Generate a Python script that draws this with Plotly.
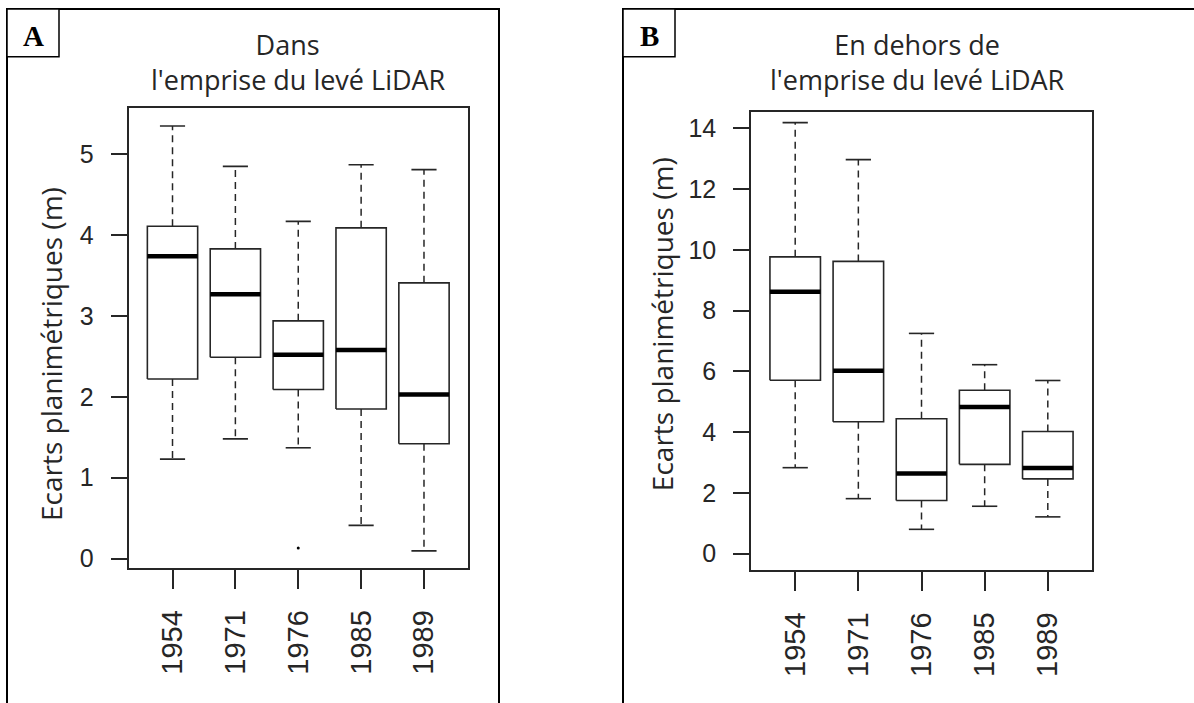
import plotly.graph_objects as go

# Boxplot statistics (metres)
years = ["1954", "1971", "1976", "1985", "1989"]

# Panel A: within the LiDAR survey footprint
a_low = [1.23, 1.48, 1.37, 0.41, 0.095]
a_q1 = [2.22, 2.49, 2.09, 1.85, 1.42]
a_med = [3.74, 3.27, 2.52, 2.58, 2.03]
a_q3 = [4.11, 3.83, 2.94, 4.09, 3.41]
a_high = [5.35, 4.85, 4.17, 4.87, 4.81]
a_out_year = ["1976"]
a_out_val = [0.13]

# Panel B: outside the LiDAR survey footprint
b_low = [2.83, 1.81, 0.80, 1.56, 1.21]
b_q1 = [5.71, 4.34, 1.75, 2.94, 2.46]
b_med = [8.62, 6.02, 2.64, 4.83, 2.82]
b_q3 = [9.77, 9.62, 4.44, 5.38, 4.02]
b_high = [14.19, 12.97, 7.25, 6.22, 5.70]

W, H = 1194, 703
INK = "#262626"
HALF = 0.4      # half box width (x units)
CAP = 0.2       # half staple width


def px(x):
    return x / W


def py(y):
    return 1 - y / H


def add_boxes(fig, low, q1, med, q3, high, xa, ya):
    bx, by, wx, wy, cx, cy, mx, my = [], [], [], [], [], [], [], []
    for i in range(len(years)):
        x = i + 1
        bx += [x - HALF, x + HALF, x + HALF, x - HALF, x - HALF, None]
        by += [q1[i], q1[i], q3[i], q3[i], q1[i], None]
        wx += [x, x, None, x, x, None]
        wy += [q3[i], high[i], None, q1[i], low[i], None]
        cx += [x - CAP, x + CAP, None, x - CAP, x + CAP, None]
        cy += [high[i], high[i], None, low[i], low[i], None]
        mx += [x - HALF, x + HALF, None]
        my += [med[i], med[i], None]
    common = dict(mode="lines", xaxis=xa, yaxis=ya, hoverinfo="skip", showlegend=False)
    fig.add_trace(go.Scatter(x=wx, y=wy, line=dict(color=INK, width=1.5, dash="7px,5px"), **common))
    fig.add_trace(go.Scatter(x=cx, y=cy, line=dict(color=INK, width=1.6), **common))
    fig.add_trace(go.Scatter(x=bx, y=by, line=dict(color=INK, width=1.6), **common))
    fig.add_trace(go.Scatter(x=mx, y=my, line=dict(color="black", width=4.5), **common))


fig = go.Figure()
add_boxes(fig, a_low, a_q1, a_med, a_q3, a_high, "x", "y")
add_boxes(fig, b_low, b_q1, b_med, b_q3, b_high, "x2", "y2")

# outlier in panel A
fig.add_trace(go.Scatter(
    x=[years.index(y) + 1 for y in a_out_year], y=a_out_val,
    mode="markers", marker=dict(color="black", size=3),
    xaxis="x", yaxis="y", showlegend=False, hoverinfo="skip"
))

tick_font = dict(family="Liberation Sans, Arial, sans-serif", size=25, color=INK)
xtick_font = dict(family="Liberation Sans, Arial, sans-serif", size=29, color=INK)

xcommon = dict(
    range=[0.3, 5.7], tickmode="array", tickvals=[1, 2, 3, 4, 5], ticktext=years,
    tickangle=-90, ticks="outside", ticklen=19, tickwidth=1.5, tickcolor=INK,
    showline=True, mirror=True, linecolor=INK, linewidth=1.6,
    showgrid=False, zeroline=False, tickfont=xtick_font, ticklabelstandoff=10,
)
ycommon = dict(
    ticks="outside", ticklen=16, tickwidth=1.5, tickcolor=INK,
    showline=True, mirror=True, linecolor=INK, linewidth=1.6,
    showgrid=False, zeroline=False, tickfont=tick_font, ticklabelstandoff=12,
)

fig.update_layout(
    width=W, height=H,
    margin=dict(l=0, r=0, t=0, b=0),
    paper_bgcolor="white", plot_bgcolor="white",
    xaxis=dict(domain=[px(128.5), px(468)], anchor="y", **xcommon),
    yaxis=dict(domain=[py(571), py(108.5)], anchor="x", range=[-0.114, 5.574],
               tickvals=[0, 1, 2, 3, 4, 5], **ycommon),
    xaxis2=dict(domain=[px(751), px(1092)], anchor="y2", **xcommon),
    yaxis2=dict(domain=[py(573.3), py(112.3)], anchor="x2", range=[-0.54, 14.55],
                tickvals=[0, 2, 4, 6, 8, 10, 12, 14], **ycommon),
)

title_font = dict(family="Open Sans, Noto Sans, sans-serif", size=27, color=INK)
ann = [
    dict(text="Dans&nbsp;&nbsp;&nbsp;<br>l'emprise du levé LiDAR", x=px(298), y=py(62)),
    dict(text="En dehors de<br>l'emprise du levé LiDAR", x=px(917), y=py(62)),
]
for a in ann:
    fig.add_annotation(xref="paper", yref="paper", xanchor="center", yanchor="middle",
                       showarrow=False, font=title_font, **a)

ylab_font = dict(family="Open Sans, Noto Sans, sans-serif", size=28, color=INK)
for xc, yc in [(51, 356), (662, 326)]:
    fig.add_annotation(text="Ecarts planimétriques (m)", xref="paper", yref="paper",
                       x=px(xc), y=py(yc), xanchor="center", yanchor="middle",
                       textangle=-90, showarrow=False, font=ylab_font)

# panel frames and letter boxes
frame = dict(color="black", width=2)
fig.add_shape(type="rect", xref="paper", yref="paper",
              x0=px(7), x1=px(499), y0=-0.05, y1=py(9), line=frame)
fig.add_shape(type="rect", xref="paper", yref="paper",
              x0=px(623), x1=1.05, y0=-0.05, y1=py(9), line=frame)
for x0, x1, letter in [(7, 59, "A"), (623, 675, "B")]:
    fig.add_shape(type="rect", xref="paper", yref="paper",
                  x0=px(x0), x1=px(x1), y0=py(57), y1=py(9),
                  line=dict(color="black", width=1.5), fillcolor="white")
    fig.add_annotation(text="<b>%s</b>" % letter, xref="paper", yref="paper",
                       x=px((x0 + x1) / 2), y=py(36), xanchor="center", yanchor="middle",
                       showarrow=False,
                       font=dict(family="Liberation Serif, Times New Roman, serif", size=29, color="black"))

fig.write_html("out.html", config={"displayModeBar": False},
               post_script="document.body.style.margin='0';")
